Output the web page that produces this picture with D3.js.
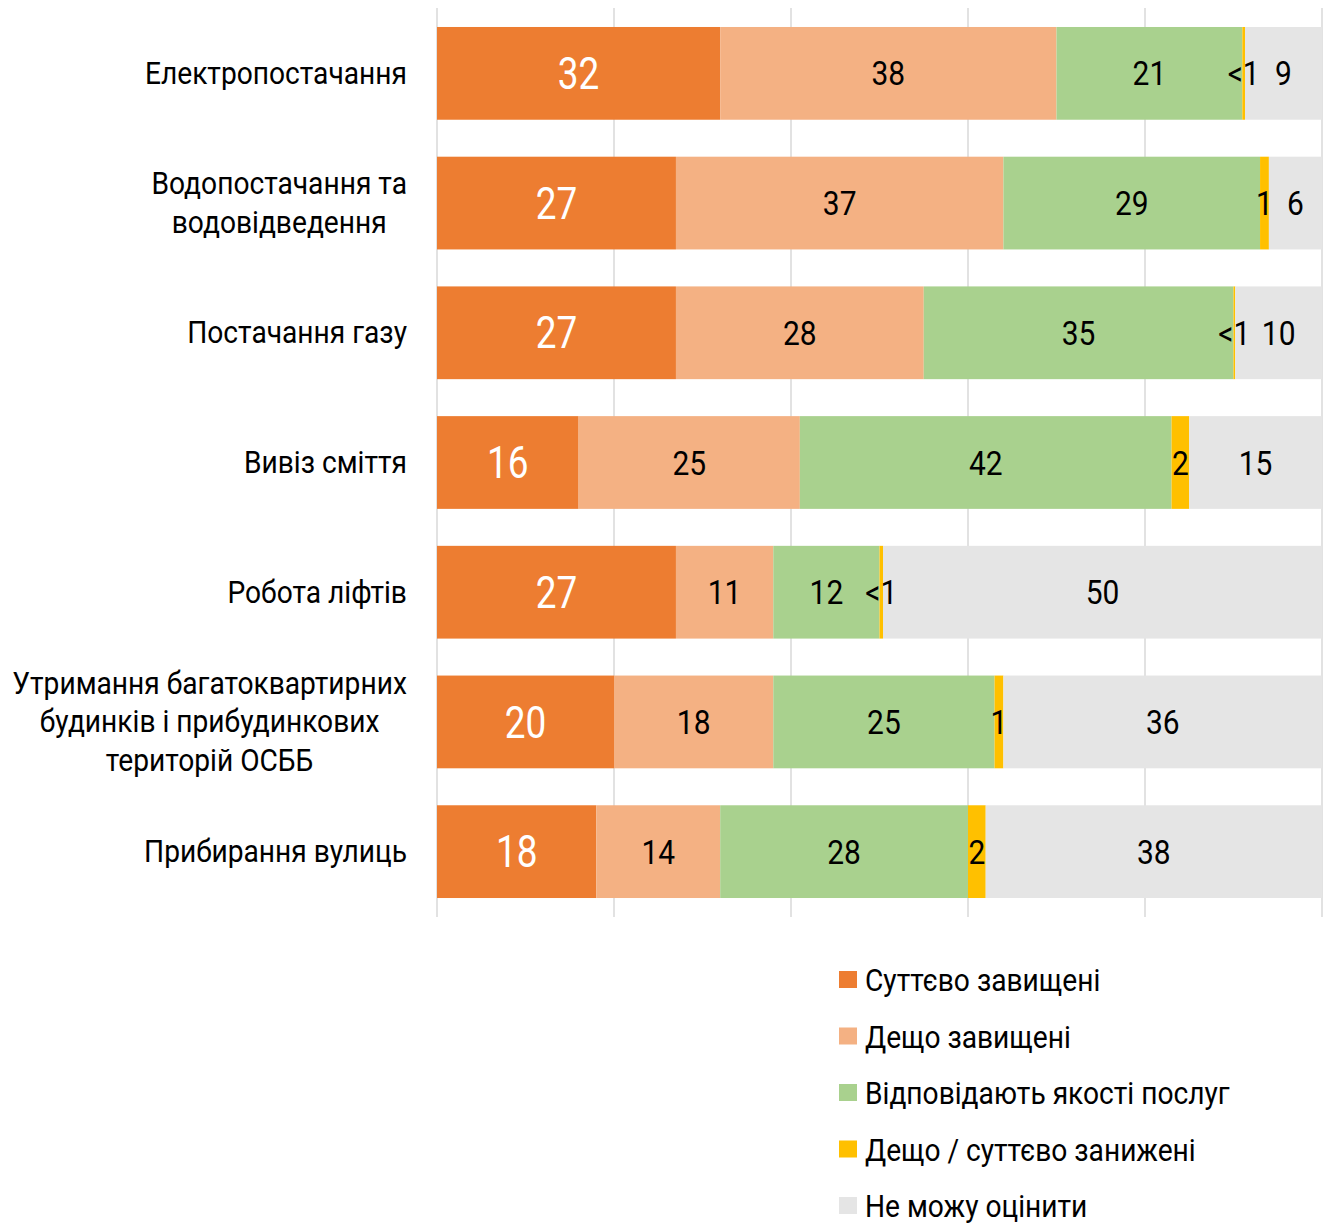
<!DOCTYPE html>
<html>
<head>
<meta charset="utf-8">
<script src="https://cdn.jsdelivr.net/npm/d3@7"></script>
<style>
  body { margin: 0; background: #fff; }
  text { font-family: Roboto, "Noto Sans", sans-serif; }
</style>
</head>
<body>
<div id="chart"></div>
<script>
var categories = [
    ["Електропостачання"],
    ["Водопостачання та", "водовідведення"],
    ["Постачання газу"],
    ["Вивіз сміття"],
    ["Робота ліфтів"],
    ["Утримання багатоквартирних", "будинків і прибудинкових", "територій ОСББ"],
    ["Прибирання вулиць"]
];

var seriesNames = ["Суттєво завищені", "Дещо завищені", "Відповідають якості послуг", "Дещо / суттєво занижені", "Не можу оцінити"];
var colors = ["#ED7D31", "#F4B183", "#A9D18E", "#FFC000", "#E5E5E5"];

var sutt = [32, 27, 27, 16, 27, 20, 18];
var deshcho = [38, 37, 28, 25, 11, 18, 14];
var vidp = [21, 29, 35, 42, 12, 25, 28];
var zanyzh = [0.3, 1, 0.2, 2, 0.4, 1, 2];
var zanyzhLabels = ["<1", "1", "<1", "2", "<1", "1", "2"];
var ne = [9, 6, 10, 15, 50, 36, 38];

var xTicks = [0, 20, 40, 60, 80, 100];

var series = [sutt, deshcho, vidp, zanyzh, ne];
var seriesLabels = [sutt.map(String), deshcho.map(String), vidp.map(String), zanyzhLabels, ne.map(String)];

var width = 1328, height = 1223;
var sx = 0.88;  // fake condensed font

var svg = d3.select("#chart")
    .append("svg")
        .attr("width", width)
        .attr("height", height);

var x = d3.scaleLinear()
        .domain([0, 100])
        .range([437, 1322]);

var y = d3.scaleBand()
        .domain(d3.range(categories.length))
        .range([8.5, 916.5])
        .paddingInner(0.285)
        .paddingOuter(0.1425);

// grid
svg.append("g")
    .selectAll("line")
    .data(xTicks)
    .enter().append("line")
        .attr("x1", function(d) { return x(d) })
        .attr("x2", function(d) { return x(d) })
        .attr("y1", 8)
        .attr("y2", 917)
        .attr("stroke", "#D9D9D9")
        .attr("stroke-width", 1.5);

svg.append("clipPath").attr("id", "clip")
    .append("rect")
        .attr("x", x(0)).attr("y", 0)
        .attr("width", x(100) - x(0)).attr("height", height);

// stack rows
var rows = categories.map(function(c, i) {
    var start = 0;
    return series.map(function(s, k) {
        var seg = {row: i, k: k, x0: start, x1: start + s[i], label: seriesLabels[k][i]};
        start += s[i];
        return seg;
    });
});
var segs = [].concat.apply([], rows);

svg.append("g")
    .attr("clip-path", "url(#clip)")
    .selectAll("rect")
    .data(segs)
    .enter().append("rect")
        .attr("x", function(d) { return x(d.x0) })
        .attr("y", function(d) { return y(d.row) })
        .attr("width", function(d) { return x(d.x1) - x(d.x0) })
        .attr("height", y.bandwidth())
        .attr("fill", function(d) { return colors[d.k] });

svg.append("g")
    .selectAll("text")
    .data(segs)
    .enter().append("text")
        .attr("transform", function(d) {
            var fs = d.k == 0 ? 44 : 34;
            var cx = x((d.x0 + Math.min(d.x1, 100)) / 2);
            var cy = y(d.row) + y.bandwidth() / 2 + fs * 0.355;
            return "translate(" + cx + "," + cy + ") scale(" + (d.k == 0 ? 0.84 : sx) + ",1)";
        })
        .attr("text-anchor", "middle")
        .attr("font-size", function(d) { return d.k == 0 ? 44 : 34 })
        .attr("fill", function(d) { return d.k == 0 ? "#fff" : "#000" })
        .text(function(d) { return d.label });

// category labels
var lineH = 38.5;
categories.forEach(function(lines, i) {
    var cy = y(i) + y.bandwidth() / 2;
    var g = svg.append("g");
    var t = g.append("text")
        .attr("font-size", 32)
        .attr("fill", "#000")
        .attr("text-anchor", "middle");
    lines.forEach(function(l, j) {
        t.append("tspan")
            .attr("x", 0)
            .attr("y", (j - (lines.length - 1) / 2) * lineH + 32 * 0.33)
            .text(l);
    });
    var w = t.node().getBBox().width * sx;
    g.attr("transform", "translate(" + (407 - w / 2) + "," + cy + ") scale(" + sx + ",1)");
});

// legend
var legend = svg.append("g")
    .selectAll("g")
    .data(seriesNames)
    .enter().append("g")
        .attr("transform", function(d, i) { return "translate(839," + (971 + i * 56.5) + ")" });

legend.append("rect")
    .attr("width", 18)
    .attr("height", 17)
    .attr("fill", function(d, i) { return colors[i] });

legend.append("text")
    .attr("transform", "translate(26,20) scale(" + sx + ",1)")
    .attr("font-size", 32)
    .attr("fill", "#000")
    .text(function(d) { return d });
</script>
</body>
</html>
